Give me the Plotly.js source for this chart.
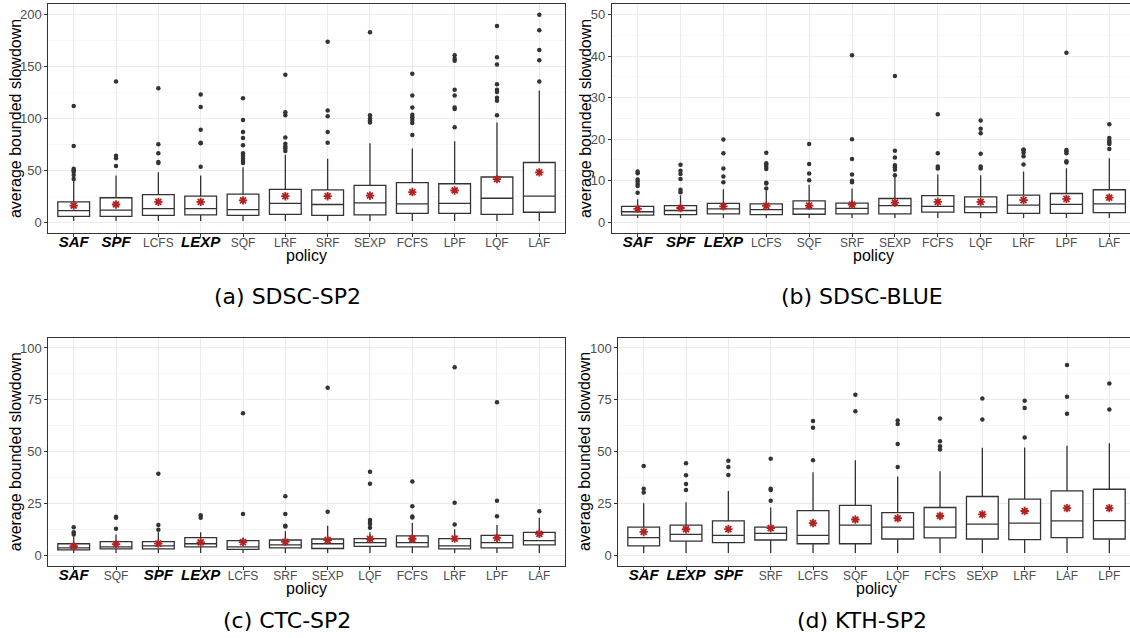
<!DOCTYPE html>
<html>
<head>
<meta charset="utf-8">
<script src="https://cdn.plot.ly/plotly-3.0.1.min.js"></script>
<style>
  html, body { margin: 0; padding: 0; background: #fff; }
  #chart { width: 1130px; height: 638px; }
</style>
</head>
<body>
<div id="chart"></div>
<script>
// ---------- (a) SDSC-SP2 ----------
var catA  = ['SAF','SPF','LCFS','LEXP','SQF','LRF','SRF','SEXP','FCFS','LPF','LQF','LAF'];
var q1A   = [5.5, 5.5, 6.5, 7, 6.5, 7.5, 6.5, 7, 8.5, 8.5, 7.5, 9.5];
var medA  = [11, 11.5, 13, 13, 12, 18, 17, 18.5, 17.5, 18, 23, 25];
var q3A   = [19.5, 23.5, 26.5, 25, 27, 31.5, 31, 35.5, 38, 37, 43.5, 57.5];
var loA   = [1, 1, 1, 1, 1, 1, 1, 1, 1, 1, 1, 1];
var hiA   = [40, 45, 48, 45, 53, 65, 61, 76, 71, 78, 96, 127];
var meanA = [16, 17, 19.5, 19.5, 21, 25, 25, 25.5, 29, 30.5, 41.5, 48];
var outA  = [[41.5,45.5,48.5,50,51.5,73.5,112],[54,61.5,64,135.5],[57,58,66.5,75,129],
             [53.5,76,76.5,89,111,123],[57,59,61,64,66.5,74,81,87,98.5,119.5],
             [68.5,71,73,75.5,81.5,103,106,142],[76.5,87,102,107.5,174],[96,98,100,103,183],
             [84,95.5,98.5,101,103.5,110.5,122,143],[91.5,109,110.5,122,127.5,155.5,157.5,161],
             [103,117,120,125.5,127.5,133,152,159,189],[135.5,156,166,185,200]];

// ---------- (b) SDSC-BLUE ----------
var catB  = ['SAF','SPF','LEXP','LCFS','SQF','SRF','SEXP','FCFS','LQF','LRF','LPF','LAF'];
var q1B   = [1.7, 1.8, 2, 1.8, 1.9, 2, 2, 2.4, 2.3, 2.1, 2.1, 2.3];
var medB  = [2.5, 2.8, 3.2, 3, 3.2, 3.3, 4, 3.8, 3.7, 4.1, 4.3, 4.4];
var q3B   = [3.8, 4, 4.5, 4.4, 5.1, 4.6, 5.7, 6.4, 6.1, 6.5, 6.9, 7.8];
var loB   = [1, 1, 1, 1, 1, 1, 1, 1, 1, 1, 1, 1];
var hiB   = [5.5, 6.5, 7.9, 7.5, 9, 8.1, 11, 11.5, 11.3, 12.2, 13, 15.4];
var meanB = [3.2, 3.4, 3.8, 3.9, 4, 4.2, 4.7, 4.9, 4.9, 5.3, 5.6, 5.9];
var outB  = [[7.1,8.7,9.2,9.8,10.3,11.8,12.2],[7.2,7.8,10.4,11.6,12.4,13.8],[9.6,11,12.9,16.6,19.9],
             [8.1,9.3,9.5,12.8,13.3,13.8,14.2,16.7],[10.1,11.7,14,18.8],[9.6,10,11.5,15.2,20,40.2],
             [11.3,12.6,13.2,13.7,15.6,17.2,35.2],[12.9,13.4,16.6,26],[12.9,13.4,16.5,21.4,22.5,24.5],
             [13.9,15.9,16.7,17.3,17.5],[14.4,14.7,16.6,17.1,17.4,40.8],[17.6,18.8,19.2,19.6,20.3,23.6]];

// ---------- (c) CTC-SP2 ----------
var catC  = ['SAF','SQF','SPF','LEXP','LCFS','SRF','SEXP','LQF','FCFS','LRF','LPF','LAF'];
var q1C   = [2.5, 3, 3, 4, 2.8, 3.5, 3.2, 4.2, 4, 3, 3.5, 5];
var medC  = [3.5, 4, 4.5, 5.5, 4, 5, 5.5, 6, 6, 4.5, 6, 7];
var q3C   = [5.5, 6.5, 6.5, 8.5, 7, 7.3, 7.8, 8, 9.3, 8, 9.5, 11];
var loC   = [1, 1, 1, 1, 1, 1, 1, 1, 1, 1, 1, 1];
var hiC   = [9, 10, 11, 11, 8.5, 11.5, 14.2, 11, 15.5, 12.5, 14.5, 18];
var meanC = [4.3, 5.3, 5.6, 6.2, 6.3, 6.4, 7.3, 7.8, 7.9, 8, 8.3, 10.3];
var outC  = [[10,11,13.5],[12.7,18,18.5],[12.3,14.5,39.3],[18,19.2],[19.8,68.5],[13.8,14.2,19.8,28.4],
             [21,80.8],[13.2,15,16,17,34.5,40.2],[18.2,18.7,23.6,35.6],[14.8,25.3,90.7],
             [18.8,26.2,73.8],[21.2]];

// ---------- (d) KTH-SP2 ----------
var catD  = ['SAF','LEXP','SPF','SRF','LCFS','SQF','LQF','FCFS','SEXP','LRF','LAF','LPF'];
var q1D   = [4.5, 6.8, 6, 7.3, 5.5, 5.5, 7.8, 8.3, 7.8, 7.5, 8.5, 7.8];
var medD  = [8.5, 10, 9.5, 10.5, 9.5, 14.5, 13.5, 13.5, 15, 15.5, 16.5, 16.7];
var q3D   = [13.5, 14.5, 16.5, 13.5, 21.5, 24, 20.5, 23, 28.3, 27, 31, 31.8];
var loD   = [1, 1, 1, 1, 1, 1, 1, 1, 1, 1, 1, 1];
var hiD   = [25, 25.5, 31, 23, 40, 45.8, 38, 40.5, 51.8, 52, 52.8, 54];
var meanD = [11.2, 12.5, 12.6, 13, 15.5, 17.2, 17.8, 18.9, 19.7, 21.3, 22.7, 22.7];
var outD  = [[30.2,32,43],[31.5,34.3,38.6,44.3],[38.7,42.5,45.5],[26.3,31.5,32,46.5],[45.8,61.5,64.8],
             [69.4,77.4],[42.5,53.7,63.3,65],[51,52.5,55,66],[65.5,75.6],[56.8,71,74.5],
             [68.3,76.5,91.8],[70.3,82.8]];

var boldPolicies = ['SAF','SPF','LEXP'];
var captions = ['(a) SDSC-SP2', '(b) SDSC-BLUE', '(c) CTC-SP2', '(d) KTH-SP2'];

// ---------- build ----------
var W = 1130, H = 638;
var FONT = 'Liberation Sans, Arial, Helvetica, sans-serif';
var panels = [
  {cat:catA,q1:q1A,med:medA,q3:q3A,lo:loA,hi:hiA,mean:meanA,out:outA,
   px:[48.3,564.7], py:[4.3,232.5], yr:[-10,210], dt:50, xr:[-0.6,11.6], mirrorY:true, ytx:15.7},
  {cat:catB,q1:q1B,med:medB,q3:q3B,lo:loB,hi:hiB,mean:meanB,out:outB,
   px:[611.9,1130], py:[4.3,232.5], yr:[-2.5,52.5], dt:10, xr:[-0.6,-0.6+(1130-611.9)/42.88], mirrorY:false, ytx:585.7, xc:873.5},
  {cat:catC,q1:q1C,med:medC,q3:q3C,lo:loC,hi:hiC,mean:meanC,out:outC,
   px:[48.3,564.7], py:[337.6,565.5], yr:[-5,105], dt:25, xr:[-0.6,11.6], mirrorY:true, ytx:15.7},
  {cat:catD,q1:q1D,med:medD,q3:q3D,lo:loD,hi:hiD,mean:meanD,out:outD,
   px:[618.3,1130], py:[337.6,565.5], yr:[-5,105], dt:25, xr:[-0.6,-0.6+(1130-618.3)/42.33], mirrorY:false, ytx:584.5, xc:876.5}
];

var traces = [];
var layout = {
  width: W, height: H,
  margin: {l:0, r:0, t:0, b:0},
  paper_bgcolor: '#fff', plot_bgcolor: '#fff',
  showlegend: false,
  font: {family: FONT, color: '#000'},
  annotations: [],
  shapes: []
};

function tickLabel(name) {
  if (boldPolicies.indexOf(name) >= 0) {
    return '<span style="font-size:15px;color:#000000"><b><i>' + name + '</i></b></span>';
  }
  return name;
}

panels.forEach(function(p, i) {
  var n = i + 1;
  var xa = 'x' + (n === 1 ? '' : n), ya = 'y' + (n === 1 ? '' : n);
  traces.push({
    type: 'box', xaxis: xa, yaxis: ya,
    x: p.cat, q1: p.q1, median: p.med, q3: p.q3,
    lowerfence: p.lo, upperfence: p.hi,
    boxpoints: false, width: 0.75, whiskerwidth: 0,
    fillcolor: '#ffffff',
    line: {color: '#333333', width: 1.3},
    hoverinfo: 'skip'
  });
  var ox = [], oy = [];
  p.out.forEach(function(arr, k) {
    arr.forEach(function(v) { ox.push(p.cat[k]); oy.push(v); });
  });
  traces.push({
    type: 'scatter', mode: 'markers', xaxis: xa, yaxis: ya,
    x: ox, y: oy,
    marker: {color: '#333333', size: 4.5},
    hoverinfo: 'skip'
  });
  traces.push({
    type: 'scatter', mode: 'markers', xaxis: xa, yaxis: ya,
    x: p.cat, y: p.mean,
    marker: {symbol: 'asterisk-open', size: 7, color: '#B22222', line: {color: '#B22222', width: 1.8}},
    hoverinfo: 'skip'
  });

  var dom = [p.px[0] / W, p.px[1] / W];
  var ydom = [1 - p.py[1] / H, 1 - p.py[0] / H];
  var tickvals = [];
  for (var v = 0; v <= p.yr[1]; v += p.dt) tickvals.push(v);

  layout['xaxis' + (n === 1 ? '' : n)] = {
    domain: dom, anchor: ya, type: 'category',
    categoryorder: 'array', categoryarray: p.cat,
    range: p.xr, tickvals: p.cat, ticktext: p.cat.map(tickLabel),
    showgrid: true, gridcolor: '#EBEBEB', gridwidth: 1,
    showline: true, linecolor: '#333333', linewidth: 1, mirror: true,
    ticks: 'outside', ticklen: 3, tickcolor: '#333333', tickwidth: 1,
    ticklabelstandoff: -4,
    tickfont: {family: FONT, size: 12, color: '#4D4D4D'},
    zeroline: false, fixedrange: true
  };
  layout['yaxis' + (n === 1 ? '' : n)] = {
    domain: ydom, anchor: xa, range: p.yr,
    tickvals: tickvals,
    showgrid: true, gridcolor: '#EBEBEB', gridwidth: 1,
    minor: {dtick: p.dt / 2, tick0: p.dt / 2, showgrid: true, gridcolor: '#F2F2F2', gridwidth: 0.6, ticks: ''},
    showline: true, linecolor: '#333333', linewidth: 1, mirror: p.mirrorY,
    ticks: 'outside', ticklen: 3, tickcolor: '#333333', tickwidth: 1,
    tickfont: {family: FONT, size: 13, color: '#4D4D4D'},
    zeroline: false, fixedrange: true
  };

  var yc = (p.py[0] + p.py[1]) / 2;
  layout.annotations.push({
    xref: 'paper', yref: 'paper', x: p.ytx / W, y: 1 - yc / H,
    text: 'average bounded slowdown', textangle: -90, showarrow: false,
    xanchor: 'center', yanchor: 'middle',
    font: {family: FONT, size: 16, color: '#000'}
  });
  var xc = p.xc || (p.px[0] + p.px[1]) / 2;
  layout.annotations.push({
    xref: 'paper', yref: 'paper', x: xc / W, y: 1 - (p.py[1] + 23) / H,
    text: 'policy', showarrow: false, xanchor: 'center', yanchor: 'middle',
    font: {family: FONT, size: 16, color: '#000'}
  });
  var capX = (i % 2 === 0) ? 287 : 862;
  var capY = (i < 2) ? 297 : 620;
  layout.annotations.push({
    xref: 'paper', yref: 'paper', x: capX / W, y: 1 - capY / H,
    text: captions[i], showarrow: false, xanchor: 'center', yanchor: 'middle',
    font: {family: 'DejaVu Sans, sans-serif', size: 22, color: '#000'}
  });
});

Plotly.newPlot('chart', traces, layout, {staticPlot: true, displayModeBar: false});
</script>
</body>
</html>
